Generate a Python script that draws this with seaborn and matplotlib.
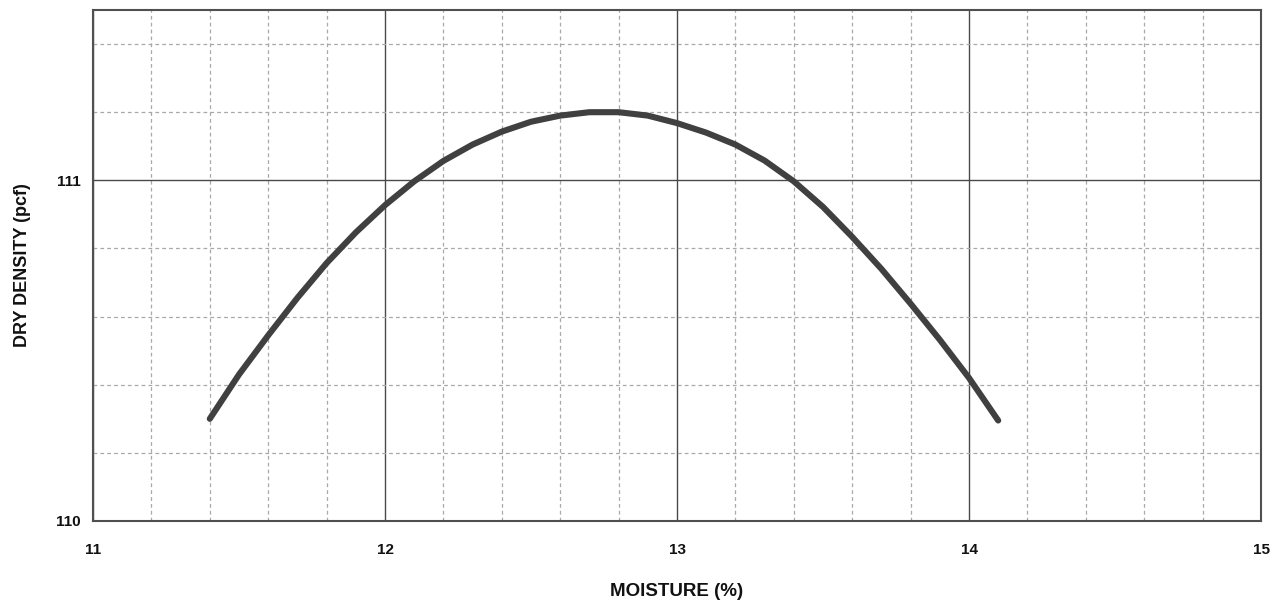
import matplotlib
matplotlib.use("Agg")
import matplotlib.pyplot as plt
from matplotlib.ticker import MultipleLocator, FixedLocator
import seaborn as sns
import pandas as pd

# Data (curve traced every 0.1 % moisture)
moisture = [11.4, 11.5, 11.6, 11.7, 11.8, 11.9, 12.0, 12.1, 12.2, 12.3, 12.4,
            12.5, 12.6, 12.7, 12.8, 12.9, 13.0, 13.1, 13.2, 13.3, 13.4, 13.5,
            13.6, 13.7, 13.8, 13.9, 14.0, 14.1]
dry_density = [110.300, 110.430, 110.545, 110.655, 110.757, 110.847, 110.927, 110.997,
               111.057, 111.105, 111.143, 111.172, 111.190, 111.200, 111.200, 111.190,
               111.168, 111.140, 111.105, 111.058, 110.997, 110.922, 110.834, 110.740,
               110.638, 110.532, 110.420, 110.295]
x_ticks = [11, 12, 13, 14, 15]
y_ticks = [110, 111]
x_label = "MOISTURE (%)"
y_label = "DRY DENSITY (pcf)"

df = pd.DataFrame({"moisture": moisture, "density": dry_density})

sns.set_style("white")
plt.rcParams["font.family"] = ["Liberation Sans", "DejaVu Sans"]

W, H = 1283, 608
fig = plt.figure(figsize=(W / 100, H / 100), dpi=100)
ax = fig.add_axes([93 / W, 1 - 521 / H, (1261 - 93) / W, (521 - 10) / H])

sns.lineplot(data=df, x="moisture", y="density", ax=ax, color="#404040",
             linewidth=4.4, sort=False)
for ln in ax.lines:
    ln.set_solid_capstyle("round")
    ln.set_solid_joinstyle("round")

ax.set_xlim(11, 15)
ax.set_ylim(110, 111.5)
ax.xaxis.set_major_locator(FixedLocator(x_ticks))
ax.yaxis.set_major_locator(FixedLocator(y_ticks))
ax.xaxis.set_minor_locator(MultipleLocator(0.2))
ax.yaxis.set_minor_locator(MultipleLocator(0.2))

ax.grid(which="major", color="#4a4a4a", linestyle="-", linewidth=1.0)
ax.grid(which="minor", color="#a8a8a8", linestyle=(0, (3, 2.5)), linewidth=0.9)
ax.set_axisbelow(True)

for s in ax.spines.values():
    s.set_color("#505050")
    s.set_linewidth(1.5)
    s.set_visible(True)

ax.tick_params(which="major", direction="out", length=3.6, width=1, color="#505050")
ax.tick_params(which="minor", length=0)
ax.tick_params(axis="x", which="major", pad=12)
ax.tick_params(axis="y", which="major", pad=5.5)
ax.set_xticks(x_ticks)
ax.set_xticklabels([str(t) for t in x_ticks], fontweight="bold", fontsize=11, color="#111111")
ax.set_yticks(y_ticks)
ax.set_yticklabels([str(t) for t in y_ticks], fontweight="bold", fontsize=11, color="#111111")

ax.set_xlabel(x_label, fontweight="bold", fontsize=13.5, color="#111111")
ax.set_ylabel(y_label, fontweight="bold", fontsize=13, color="#111111")
ax.xaxis.set_label_coords(0.5, -(592 - 521) / (521 - 10), transform=ax.transAxes)
ax.xaxis.label.set_va("center")
ax.yaxis.set_label_coords(-(93 - 22) / (1261 - 93), 0.5, transform=ax.transAxes)
ax.yaxis.label.set_va("center")

fig.savefig("out.png", dpi=100)
